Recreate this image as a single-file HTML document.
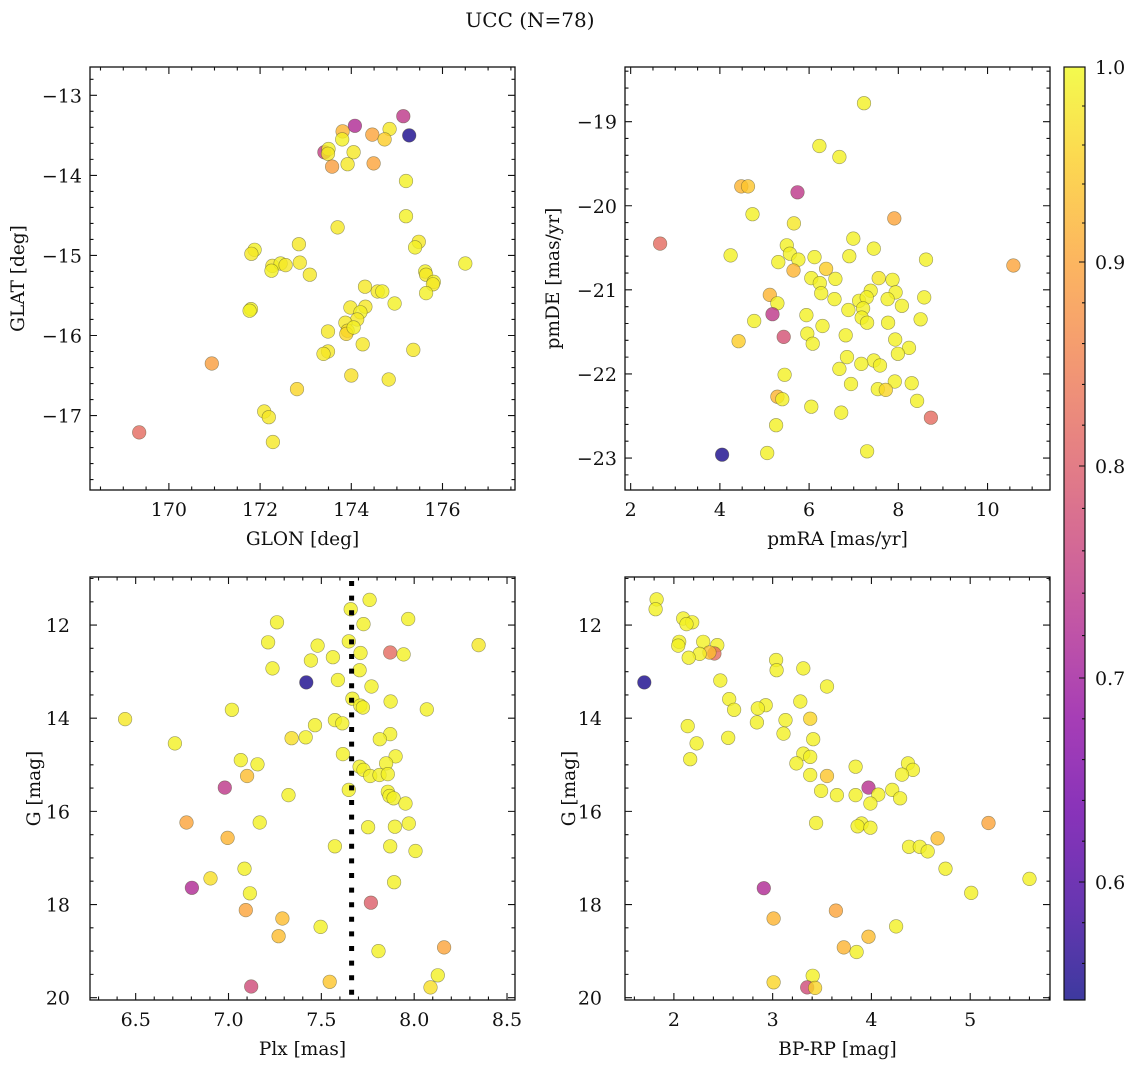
<!DOCTYPE html>
<html><head><meta charset="utf-8">
<style>
html,body{margin:0;padding:0;background:#fff;}
svg{display:block;font-family:"DejaVu Serif","Liberation Serif",serif;}
</style></head>
<body>
<svg id="fig" width="1136" height="1067" viewBox="0 0 1136 1067" xmlns="http://www.w3.org/2000/svg">
<text x="530" y="27" font-size="20" text-anchor="middle" fill="#111">UCC (N=78)</text>
</svg>
<script>
// ---------- Panel 1: GLON / GLAT ----------
const p1x=[169.35,170.94,175.14,174.08,175.27,173.81,174.46,174.84,174.73,173.8,173.41,173.5,173.49,174.05,173.58,173.92,174.49,175.2,175.2,173.7,175.48,175.4,172.85,171.88,171.81,172.87,172.27,172.45,172.56,172.25,173.09,176.5,175.62,175.64,175.81,175.79,175.64,174.3,174.58,174.68,174.95,171.8,171.77,173.98,174.31,174.2,174.13,173.87,173.92,173.89,174.05,173.49,174.25,173.49,173.39,175.36,174.0,174.82,172.81,172.09,172.19,172.28];
const p1y=[-17.21,-16.35,-13.26,-13.38,-13.50,-13.45,-13.49,-13.42,-13.55,-13.55,-13.71,-13.67,-13.73,-13.71,-13.89,-13.86,-13.85,-14.07,-14.51,-14.65,-14.83,-14.9,-14.86,-14.93,-14.98,-15.09,-15.13,-15.1,-15.12,-15.19,-15.24,-15.1,-15.2,-15.24,-15.33,-15.36,-15.47,-15.39,-15.45,-15.45,-15.6,-15.67,-15.69,-15.65,-15.64,-15.71,-15.8,-15.84,-15.94,-15.98,-15.9,-15.95,-16.11,-16.2,-16.23,-16.18,-16.5,-16.55,-16.67,-16.95,-17.02,-17.33];
const p1c=[0.82,0.89,0.74,0.72,0.55,0.92,0.9,0.98,0.95,0.99,0.75,0.99,0.98,0.98,0.89,0.98,0.9,0.99,0.99,0.98,0.98,0.99,0.98,0.99,0.98,0.98,0.98,0.99,0.98,0.99,0.98,0.99,0.99,0.98,0.99,0.98,0.99,0.98,0.98,0.99,0.99,0.99,0.99,0.98,0.98,0.99,0.98,0.98,0.97,0.96,0.99,0.98,0.98,0.98,0.98,0.98,0.97,0.98,0.96,0.98,0.98,0.98];
const p1xt=[170,172,174,176];
const p1yt=[-13,-14,-15,-16,-17];

// ---------- Panel 2: pmRA / pmDE ----------
const p2x=[7.23,6.23,6.68,4.48,4.63,5.74,4.73,7.91,5.66,2.66,6.99,5.50,7.45,4.24,5.57,6.12,6.90,5.76,8.62,10.58,5.31,5.65,6.38,6.05,6.24,6.59,7.56,7.87,7.38,7.94,6.27,5.12,6.57,7.12,7.29,7.76,8.58,5.29,8.08,7.21,6.88,5.18,5.94,7.18,7.30,7.77,8.50,4.77,6.30,5.96,6.82,5.43,7.93,4.42,6.08,8.24,7.99,6.85,7.45,7.17,7.59,6.68,5.45,7.92,6.94,8.30,7.54,7.72,5.29,5.40,8.42,6.05,6.72,8.73,5.26,4.05,5.06,7.30];
const p2y=[-18.78,-19.29,-19.42,-19.77,-19.77,-19.84,-20.10,-20.15,-20.21,-20.45,-20.39,-20.47,-20.51,-20.59,-20.57,-20.61,-20.60,-20.64,-20.64,-20.71,-20.67,-20.77,-20.75,-20.86,-20.92,-20.87,-20.86,-20.88,-21.01,-21.03,-21.04,-21.06,-21.11,-21.13,-21.09,-21.11,-21.09,-21.16,-21.19,-21.22,-21.24,-21.29,-21.30,-21.33,-21.39,-21.39,-21.35,-21.37,-21.43,-21.52,-21.54,-21.56,-21.59,-21.61,-21.64,-21.69,-21.76,-21.80,-21.84,-21.88,-21.90,-21.94,-22.01,-22.09,-22.12,-22.11,-22.18,-22.19,-22.27,-22.30,-22.32,-22.39,-22.46,-22.52,-22.61,-22.96,-22.94,-22.92];
const p2c=[0.99,0.99,0.99,0.92,0.94,0.74,0.99,0.9,0.98,0.82,0.99,0.99,0.99,0.99,0.99,0.99,0.99,0.99,0.99,0.9,0.99,0.92,0.95,0.99,0.99,0.99,0.98,0.99,0.99,0.99,0.99,0.92,0.99,0.99,0.99,0.99,0.99,0.99,0.99,0.99,0.99,0.74,0.99,0.99,0.99,0.99,0.99,0.99,0.99,0.99,0.99,0.78,0.99,0.95,0.99,0.99,0.99,0.99,0.99,0.99,0.99,0.99,0.99,0.99,0.99,0.99,0.99,0.96,0.92,0.99,0.99,0.99,0.99,0.82,0.99,0.55,0.99,0.99];
const p2xt=[2,4,6,8,10];
const p2yt=[-19,-20,-21,-22,-23];

// ---------- Panel 3: Plx / G ----------
const p3x=[7.76,7.658,7.968,7.261,7.727,7.213,7.648,8.347,7.48,7.711,7.871,7.943,7.562,7.444,7.237,7.706,7.419,7.589,7.77,7.667,7.71,7.724,7.873,7.018,8.068,6.443,7.573,7.613,7.466,7.871,7.34,7.416,7.815,6.711,7.616,7.9,7.066,7.849,7.156,7.706,7.727,7.763,7.813,7.858,7.1,6.98,7.648,7.323,7.858,7.867,7.889,7.953,6.774,7.168,7.752,7.896,7.971,6.995,7.573,7.871,8.007,7.086,6.903,7.892,6.803,7.115,7.767,7.093,7.29,7.496,7.27,8.161,7.808,8.127,7.122,7.545,8.088];
const p3y=[11.46,11.66,11.87,11.94,11.98,12.37,12.35,12.43,12.44,12.6,12.59,12.63,12.69,12.76,12.93,12.97,13.23,13.18,13.32,13.58,13.73,13.77,13.64,13.82,13.81,14.02,14.04,14.11,14.15,14.34,14.43,14.41,14.45,14.54,14.77,14.82,14.9,14.97,14.99,15.04,15.11,15.24,15.22,15.2,15.24,15.49,15.54,15.65,15.58,15.67,15.72,15.83,16.24,16.24,16.34,16.33,16.26,16.57,16.75,16.75,16.85,17.23,17.44,17.52,17.64,17.76,17.96,18.12,18.3,18.48,18.68,18.92,19.0,19.52,19.76,19.66,19.78];
const p3c=[0.99,0.99,0.99,0.99,0.99,0.99,0.99,0.98,0.99,0.99,0.82,0.99,0.99,0.99,0.99,0.99,0.55,0.99,0.99,0.99,0.99,0.99,0.99,0.99,0.99,0.98,0.99,0.99,0.99,0.99,0.97,0.99,0.99,0.99,0.99,0.99,0.99,0.99,0.99,0.99,0.99,0.99,0.99,0.99,0.93,0.74,0.99,0.99,0.99,0.99,0.99,0.99,0.9,0.99,0.99,0.99,0.99,0.92,0.99,0.99,0.99,0.99,0.97,0.99,0.72,0.99,0.8,0.9,0.93,0.99,0.93,0.9,0.99,0.99,0.77,0.94,0.97];
const p3xt=[6.5,7.0,7.5,8.0,8.5];
const p3yt=[12,14,16,18,20];
const p3line=[7.663];

// ---------- Panel 4: BP-RP / G ----------
const p4x=[1.825,1.815,2.094,2.185,2.128,2.054,2.297,2.044,2.44,2.41,2.36,2.26,2.15,3.035,3.04,3.31,1.70,2.47,3.55,2.56,3.28,2.61,2.93,2.85,3.38,3.13,2.84,2.14,3.11,2.55,3.41,2.23,3.31,3.38,2.165,3.24,3.84,4.37,4.42,4.31,3.38,3.55,3.97,3.49,4.21,3.65,3.84,4.07,4.29,3.99,3.44,5.185,3.90,3.86,3.99,4.67,4.38,4.49,4.57,4.75,5.60,5.01,2.91,3.64,3.01,4.25,3.97,3.72,3.85,3.405,3.01,3.35,3.43];
const p4y=[11.45,11.66,11.86,11.94,11.98,12.36,12.36,12.44,12.43,12.61,12.59,12.62,12.70,12.75,12.97,12.93,13.23,13.19,13.32,13.59,13.64,13.82,13.72,13.79,14.01,14.04,14.09,14.17,14.33,14.42,14.45,14.54,14.76,14.83,14.88,14.97,15.04,14.97,15.11,15.21,15.22,15.24,15.49,15.56,15.54,15.65,15.65,15.64,15.72,15.83,16.25,16.25,16.26,16.32,16.35,16.58,16.76,16.76,16.86,17.23,17.45,17.75,17.65,18.13,18.30,18.47,18.69,18.92,19.02,19.53,19.67,19.78,19.79];
const p4c=[0.99,0.99,0.99,0.99,0.99,0.99,0.99,0.99,0.99,0.82,0.93,0.99,0.99,0.99,0.99,0.99,0.55,0.99,0.99,0.99,0.99,0.99,0.99,0.99,0.96,0.99,0.99,0.99,0.99,0.99,0.99,0.99,0.99,0.99,0.99,0.99,0.99,0.99,0.99,0.99,0.99,0.94,0.73,0.99,0.99,0.99,0.99,0.99,0.99,0.99,0.99,0.9,0.99,0.99,0.99,0.93,0.99,0.99,0.99,0.99,0.99,0.99,0.72,0.9,0.92,0.99,0.93,0.92,0.99,0.99,0.96,0.77,0.96];
const p4xt=[2,3,4,5];
const p4yt=[12,14,16,18,20];

// ---------- Colorbar ----------
const cbTicks=[0.6,0.7,0.8,0.9,1.0];
const cbTickPos=[882,678,466,262,67];

const NS="http://www.w3.org/2000/svg";
const svg=document.getElementById('fig');
function mk(tag,attrs,parent){const e=document.createElementNS(NS,tag);for(const k in attrs)e.setAttribute(k,attrs[k]);(parent||svg).appendChild(e);return e;}

const plasma=[[13,8,135],[65,4,157],[106,0,168],[143,13,164],[177,42,144],[204,71,120],[225,100,98],[242,132,75],[252,166,54],[252,206,37],[240,249,33]];
function plasmaAt(t){t=Math.max(0,Math.min(1,t));const f=t*10,i=Math.min(9,Math.floor(f)),r=f-i;const a=plasma[i],b=plasma[i+1];return 'rgb('+a.map((v,k)=>Math.round(v+(b[k]-v)*r)).join(',')+')';}
const cbV=[0.542,0.6,0.7,0.8,0.9,1.0], cbY=[1000,882,678,466,262,67];
function vToY(v){if(v<=cbV[0])return cbY[0];for(let i=0;i<cbV.length-1;i++){if(v<=cbV[i+1]){const r=(v-cbV[i])/(cbV[i+1]-cbV[i]);return cbY[i]+(cbY[i+1]-cbY[i])*r;}}return cbY[cbY.length-1];}
function colorOf(v){return plasmaAt((1000-vToY(v))/933);}

function fmt(v,d){const s=v.toFixed(d);return s.startsWith('-')?'\u2212'+s.slice(1):s;}

function panel(o){
  const g=mk('g',{});
  
  
  const sx=v=>o.x0+(v-o.xd[0])/(o.xd[1]-o.xd[0])*(o.x1-o.x0);
  const sy=o.invert?(v=>o.y0+(v-o.yd[0])/(o.yd[1]-o.yd[0])*(o.y1-o.y0)):(v=>o.y1-(v-o.yd[0])/(o.yd[1]-o.yd[0])*(o.y1-o.y0));
  const pg=mk('g',{},g);
  
  
  for(let i=0;i<o.xs.length;i++){
    const c=mk('circle',{cx:sx(o.xs[i]).toFixed(1),cy:sy(o.ys[i]).toFixed(1),r:6.8,fill:colorOf(o.cs[i]),'fill-opacity':0.8,stroke:'#4a4a2a','stroke-opacity':0.55,'stroke-width':0.6},pg);
    
    
  }
  if(o.vline){for(const v of o.vline){
    const l=mk('line',{x1:sx(v),x2:sx(v),y1:o.y0+4,y2:o.y1,stroke:'#000','stroke-width':5,'stroke-dasharray':'5 9.6'},g);
    
    
  }}
  const fr=mk('rect',{x:o.x0,y:o.y0,width:o.x1-o.x0,height:o.y1-o.y0,fill:'none',stroke:'#111','stroke-width':1.3},g);
  
  
  let d='';
  const xa=Math.min(o.xd[0],o.xd[1]),xb=Math.max(o.xd[0],o.xd[1]);
  for(let v=Math.ceil(xa/o.xm-1e-6)*o.xm;v<=xb+1e-9;v+=o.xm){const x=sx(v);d+=`M${x},${o.y1}v-3.5M${x},${o.y0}v3.5`;}
  const ya=Math.min(o.yd[0],o.yd[1]),yb=Math.max(o.yd[0],o.yd[1]);
  for(let v=Math.ceil(ya/o.ym-1e-6)*o.ym;v<=yb+1e-9;v+=o.ym){const y=sy(v);d+=`M${o.x0},${y}h3.5M${o.x1},${y}h-3.5`;}
  for(const v of o.xt){const x=sx(v);d+=`M${x},${o.y1}v-7M${x},${o.y0}v7`;}
  for(const v of o.yt){const y=sy(v);d+=`M${o.x0},${y}h7M${o.x1},${y}h-7`;}
  const tk=mk('path',{d:d,stroke:'#111','stroke-width':1.1,fill:'none'},g);
  
  
  for(const v of o.xt){const t=mk('text',{x:sx(v),y:o.y1+26,'font-size':19,'text-anchor':'middle',fill:'#111'},g);t.textContent=fmt(v,o.xdp);
    
    }
  for(const v of o.yt){const t=mk('text',{x:o.ylx,y:sy(v)+7,'font-size':19,'text-anchor':'end',fill:'#111'},g);t.textContent=fmt(v,0);
    
    }
  const xl=mk('text',{x:(o.x0+o.x1)/2,y:o.y1+55,'font-size':18.5,'text-anchor':'middle',fill:'#111'},g);xl.textContent=o.xlab;
  
  
  const cy=(o.y0+o.y1)/2;
  const yl=mk('text',{x:o.ytx,y:cy,'font-size':18.5,'text-anchor':'middle',fill:'#111',transform:`rotate(-90 ${o.ytx} ${cy})`},g);yl.textContent=o.ylab;
  
  
}

panel({name:'glon-glat-panel',x0:90,x1:515,y0:67,y1:490,xd:[168.27,177.59],yd:[-17.93,-12.646],xs:p1x,ys:p1y,cs:p1c,xt:p1xt,yt:p1yt,xm:0.5,ym:0.2,xdp:0,ylx:82,ytx:24,xlab:'GLON [deg]',ylab:'GLAT [deg]'});
panel({name:'pm-panel',x0:625,x1:1050,y0:67,y1:490,xd:[1.873,11.40],yd:[-23.38,-18.35],xs:p2x,ys:p2y,cs:p2c,xt:p2xt,yt:p2yt,xm:0.5,ym:0.2,xdp:0,ylx:617,ytx:559,xlab:'pmRA [mas/yr]',ylab:'pmDE [mas/yr]'});
panel({name:'plx-g-panel',x0:90,x1:515,y0:577,y1:1000,xd:[6.254,8.543],yd:[10.968,20.05],invert:true,xs:p3x,ys:p3y,cs:p3c,xt:p3xt,yt:p3yt,xm:0.1,ym:0.5,xdp:1,ylx:70,ytx:40,xlab:'Plx [mas]',ylab:'G [mag]',vline:p3line});
panel({name:'color-g-panel',x0:625,x1:1050,y0:577,y1:1000,xd:[1.505,5.808],yd:[10.968,20.05],invert:true,xs:p4x,ys:p4y,cs:p4c,xt:p4xt,yt:p4yt,xm:0.2,ym:0.5,xdp:0,ylx:602,ytx:575,xlab:'BP-RP [mag]',ylab:'G [mag]'});

const defs=mk('defs',{});
const lg=mk('linearGradient',{id:'cbg',x1:0,y1:1,x2:0,y2:0},defs);
for(let i=0;i<=40;i++){const t=i/40;mk('stop',{offset:t,'stop-color':plasmaAt(t)},lg);}
const cb=mk('g',{});


mk('rect',{x:1064,y:67,width:21,height:933,fill:'url(#cbg)','fill-opacity':0.8},cb);
mk('rect',{x:1064,y:67,width:21,height:933,fill:'none',stroke:'#111','stroke-width':1.2},cb);
let cd='';
for(let v=0.56;v<1.0-1e-6;v+=0.02){const y=vToY(v);cd+=`M1085,${y.toFixed(1)}h-3`;}
for(let i=0;i<cbTicks.length;i++){cd+=`M1085,${cbTickPos[i]}h-6`;}
mk('path',{d:cd,stroke:'#111','stroke-width':1.1},cb);
for(let i=0;i<cbTicks.length;i++){
  const t=mk('text',{x:1095,y:cbTickPos[i]+7,'font-size':19,fill:'#111'},cb);
  t.textContent=cbTicks[i].toFixed(1);
  
  
}
</script>
</body></html>
